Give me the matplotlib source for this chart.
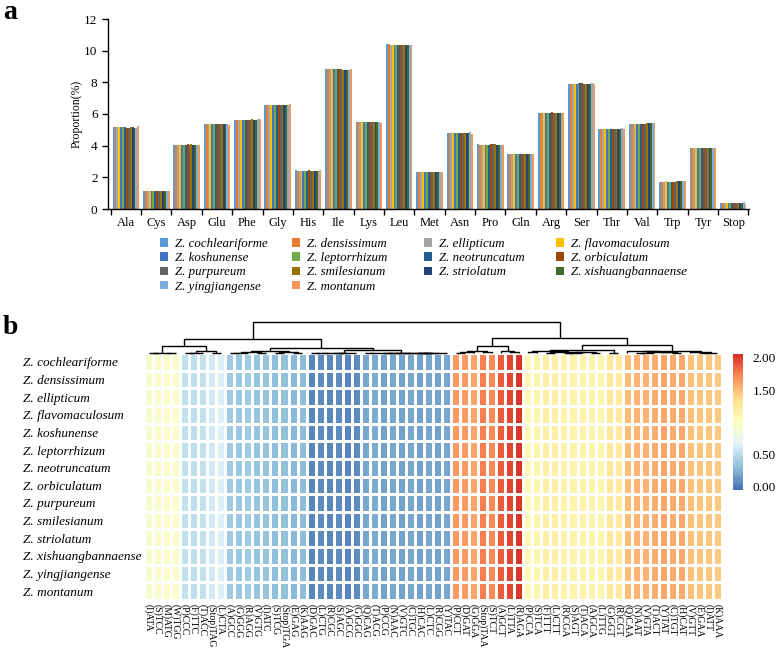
import numpy as np
import matplotlib
matplotlib.use("Agg")
import matplotlib.pyplot as plt
from matplotlib.patches import Patch
from matplotlib.colors import LinearSegmentedColormap

plt.rcParams['font.family'] = 'serif'
plt.rcParams['font.serif'] = ['Liberation Serif', 'DejaVu Serif']

# ---------------- data ----------------
species = ["Z. cochleariforme", "Z. densissimum", "Z. ellipticum", "Z. flavomaculosum",
           "Z. koshunense", "Z. leptorrhizum", "Z. neotruncatum", "Z. orbiculatum",
           "Z. purpureum", "Z. smilesianum", "Z. striolatum", "Z. xishuangbannaense",
           "Z. yingjiangense", "Z. montanum"]

species_colors = ["#5B9BD5", "#ED7D31", "#A5A5A5", "#FFC000", "#4472C4", "#70AD47",
                  "#255E91", "#9E480E", "#636363", "#997300", "#264478", "#43682B",
                  "#7CAFDD", "#F1975A"]

amino_acids = ["Ala", "Cys", "Asp", "Glu", "Phe", "Gly", "His", "Ile", "Lys", "Leu", "Met",
               "Asn", "Pro", "Gln", "Arg", "Ser", "Thr", "Val", "Trp", "Tyr", "Stop"]

# proportion (%) of each amino acid, one row per species
proportion = [
    [5.18, 1.14, 4.06, 5.40, 5.62, 6.60, 2.44, 8.82, 5.52, 10.40, 2.32, 4.80, 4.08, 3.47, 6.08, 7.90, 5.06, 5.40, 1.72, 3.84, 0.36],
    [5.16, 1.14, 4.06, 5.38, 5.62, 6.60, 2.42, 8.84, 5.50, 10.40, 2.32, 4.82, 4.07, 3.47, 6.09, 7.88, 5.06, 5.38, 1.70, 3.84, 0.36],
    [5.17, 1.15, 4.05, 5.38, 5.63, 6.59, 2.42, 8.84, 5.50, 10.36, 2.32, 4.82, 4.06, 3.47, 6.09, 7.92, 5.06, 5.38, 1.72, 3.84, 0.37],
    [5.15, 1.14, 4.06, 5.38, 5.63, 6.58, 2.43, 8.86, 5.50, 10.34, 2.32, 4.83, 4.06, 3.47, 6.09, 7.92, 5.06, 5.38, 1.74, 3.84, 0.37],
    [5.18, 1.15, 4.05, 5.38, 5.62, 6.60, 2.42, 8.82, 5.51, 10.38, 2.32, 4.82, 4.06, 3.47, 6.08, 7.90, 5.06, 5.38, 1.72, 3.84, 0.38],
    [5.16, 1.15, 4.06, 5.37, 5.64, 6.59, 2.42, 8.86, 5.50, 10.38, 2.33, 4.83, 4.07, 3.48, 6.09, 7.94, 5.06, 5.40, 1.72, 3.86, 0.37],
    [5.15, 1.15, 4.06, 5.38, 5.64, 6.58, 2.42, 8.84, 5.50, 10.36, 2.33, 4.83, 4.06, 3.47, 6.09, 7.93, 5.06, 5.40, 1.72, 3.86, 0.38],
    [5.14, 1.15, 4.08, 5.40, 5.62, 6.59, 2.44, 8.84, 5.52, 10.38, 2.34, 4.83, 4.08, 3.48, 6.10, 7.95, 5.07, 5.40, 1.72, 3.86, 0.38],
    [5.14, 1.15, 4.06, 5.38, 5.64, 6.60, 2.43, 8.82, 5.52, 10.36, 2.33, 4.82, 4.08, 3.48, 6.09, 7.88, 5.06, 5.40, 1.72, 3.86, 0.38],
    [5.16, 1.15, 4.08, 5.40, 5.66, 6.60, 2.43, 8.80, 5.50, 10.38, 2.34, 4.83, 4.08, 3.48, 6.09, 7.90, 5.06, 5.41, 1.74, 3.86, 0.37],
    [5.15, 1.15, 4.07, 5.38, 5.64, 6.58, 2.42, 8.80, 5.50, 10.34, 2.33, 4.83, 4.07, 3.47, 6.06, 7.92, 5.06, 5.42, 1.74, 3.85, 0.38],
    [5.14, 1.15, 4.07, 5.37, 5.64, 6.59, 2.42, 8.80, 5.50, 10.38, 2.32, 4.82, 4.07, 3.46, 6.06, 7.90, 5.07, 5.42, 1.76, 3.85, 0.38],
    [5.14, 1.15, 4.06, 5.36, 5.70, 6.60, 2.42, 8.79, 5.48, 10.36, 2.33, 4.84, 4.07, 3.45, 6.06, 7.98, 5.10, 5.41, 1.76, 3.84, 0.46],
    [5.22, 1.15, 4.04, 5.33, 5.66, 6.66, 2.44, 8.82, 5.42, 10.36, 2.32, 4.75, 4.06, 3.48, 6.06, 7.88, 5.05, 5.42, 1.76, 3.83, 0.30],
]

# codons in the (clustered) order of the heatmap columns
codons = ["(I)ATA", "(S)TCC", "(M)ATG", "(W)TGG", "(P)CCC", "(F)TTC", "(T)ACC", "(Stop)TAG",
          "(L)CTA", "(A)GCC", "(G)GGG", "(R)AGG", "(V)GTG", "(I)ATC", "(S)TCG", "(Stop)TGA",
          "(E)GAG", "(K)AAG", "(D)GAC", "(L)CTG", "(R)CGC", "(S)AGC", "(A)GCG", "(G)GGC",
          "(Q)CAG", "(T)ACG", "(P)CCG", "(N)AAC", "(V)GTC", "(C)TGC", "(H)CAC", "(L)CTC",
          "(R)CGG", "(Y)TAC", "(P)CCT", "(D)GAT", "(G)GGA", "(Stop)TAA", "(S)TCT", "(A)GCT",
          "(L)TTA", "(R)AGA", "(P)CCA", "(S)TCA", "(F)TTT", "(L)CTT", "(R)CGA", "(S)AGT",
          "(T)ACA", "(A)GCA", "(L)TTG", "(G)GGT", "(R)CGT", "(Q)CAA", "(N)AAT", "(V)GTA",
          "(T)ACT", "(Y)TAT", "(C)TGT", "(H)CAT", "(V)GTT", "(E)GAA", "(I)ATT", "(K)AAA"]

# value per codon (rows look the same for every species)
rscu = [0.92, 0.93, 0.95, 0.95, 0.52, 0.50, 0.52, 0.60,
        0.63, 0.38, 0.37, 0.38, 0.33, 0.34, 0.30, 0.31,
        0.27, 0.29, 0.05, 0.06, 0.04, 0.06, 0.05, 0.07,
        0.20, 0.21, 0.18, 0.19, 0.18, 0.20, 0.18, 0.19,
        0.18, 0.20, 1.65, 1.64, 1.60, 1.76, 1.71, 1.88,
        1.96, 2.03, 1.08, 1.12, 1.18, 1.19, 1.16, 1.15,
        1.16, 1.14, 1.12, 1.26, 1.23, 1.50, 1.54, 1.55,
        1.57, 1.60, 1.56, 1.59, 1.49, 1.46, 1.45, 1.46]

heat = np.array([rscu for _ in species])


# ---------------- clustering for the column tree ----------------
def neighbour_linkage(mat):
    # complete linkage, only neighbouring groups may join so the leaf order is kept
    groups = [[i] for i in range(mat.shape[1])]
    pos = [(i + 0.5, 0.0) for i in range(mat.shape[1])]
    segs = []
    while len(groups) > 1:
        best_k, best_d = 0, None
        for k in range(len(groups) - 1):
            d = max(np.linalg.norm(mat[:, i] - mat[:, j]) for i in groups[k] for j in groups[k + 1])
            if best_d is None or d < best_d:
                best_k, best_d = k, d
        (xa, ha), (xb, hb) = pos[best_k], pos[best_k + 1]
        segs.append(([xa, xa, xb, xb], [ha, best_d, best_d, hb]))
        groups[best_k:best_k + 2] = [groups[best_k] + groups[best_k + 1]]
        pos[best_k:best_k + 2] = [((xa + xb) / 2, best_d)]
    return segs, pos[0][1]


# ---------------- figure ----------------
W, H = 778, 656
fig = plt.figure(figsize=(W / 100, H / 100), dpi=100)


def box(x0, y0, x1, y1):
    # pixel box (top-left origin) -> figure fraction
    return [x0 / W, 1 - y1 / H, (x1 - x0) / W, (y1 - y0) / H]


# ---- panel a: bars ----
ax = fig.add_axes(box(108, 19, 749, 209))
n_sp = len(species)
bw = 0.875 / n_sp
xc = np.arange(len(amino_acids))
vals = np.array(proportion)
for j in range(n_sp):
    ax.bar(xc + (j - (n_sp - 1) / 2) * bw, vals[j], width=bw, color=species_colors[j],
           linewidth=0, label=species[j])

ax.set_xlim(-0.59, len(amino_acids) - 0.48)
ax.set_ylim(0, 12)
ax.set_yticks(np.arange(0, 13, 2))
ax.set_xticks(np.arange(len(amino_acids) + 1) - 0.5)
ax.set_xticklabels([])
ax.set_xticks(xc, minor=True)
ax.set_xticklabels(amino_acids, minor=True, fontsize=9)
ax.tick_params(axis='x', which='major', direction='out', length=4, width=1)
ax.tick_params(axis='x', which='minor', length=0, pad=6)
ax.tick_params(axis='y', direction='out', length=4, width=1, labelsize=9.5)
for s in ['top', 'right']:
    ax.spines[s].set_visible(False)
for s in ['left', 'bottom']:
    ax.spines[s].set_linewidth(1)
ax.set_ylabel("Proportion(%)", fontsize=8.5, labelpad=1)

# legend: four columns, filled row by row
handles = [Patch(facecolor=c, edgecolor='none') for c in species_colors]
legend_x = [160, 292, 424, 556]
for c, lx in enumerate(legend_x):
    idx = list(range(c, n_sp, 4))
    leg = fig.legend([handles[i] for i in idx], [species[i] for i in idx],
                     loc='upper left', bbox_to_anchor=(lx / W, 1 - 238 / H), frameon=False,
                     prop={'style': 'italic', 'size': 9.3}, handlelength=0.65,
                     handleheight=0.65, handletextpad=0.5, labelspacing=0.17,
                     borderpad=0, borderaxespad=0)

fig.text(3 / W, 1 - 19 / H, "a", fontsize=20, fontweight='bold', va='baseline')
fig.text(3 / W, 1 - 334 / H, "b", fontsize=20, fontweight='bold', va='baseline')

# ---- panel b: heatmap ----
hx0, hx1, hy0, hy1 = 144, 722, 353, 600
hax = fig.add_axes(box(hx0, hy0, hx1, hy1))
cmap = LinearSegmentedColormap.from_list(
    "rdylbu_r", ["#4575B4", "#91BFDB", "#E0F3F8", "#FFFFBF", "#FEE090", "#FC8D59", "#D73027"], N=100)
mesh = hax.pcolormesh(heat, cmap=cmap, vmin=-0.05, vmax=2.06, edgecolors='white', linewidth=1.0)
hax.set_xlim(0, len(codons))
hax.set_ylim(len(species), 0)
hax.set_xticks(np.arange(len(codons)) + 0.5)
hax.set_xticklabels(codons, rotation=-90, fontsize=7)
hax.set_yticks(np.arange(len(species)) + 0.5)
hax.set_yticklabels(species, fontsize=9.5, style='italic', ha='left')
hax.tick_params(axis='x', length=0, pad=3)
hax.tick_params(axis='y', length=0, pad=(hx0 - 23) * 0.72)
for s in hax.spines.values():
    s.set_visible(False)

# column dendrogram
dax = fig.add_axes(box(hx0, 322, hx1, hy0))
segs, top_h = neighbour_linkage(heat)
for xs, ys in segs:
    dax.plot(xs, ys, color='black', linewidth=1.0, clip_on=False, solid_capstyle='butt')
dax.set_xlim(0, len(codons))
dax.set_ylim(0, top_h)
dax.axis('off')

# colour key
cax = fig.add_axes(box(733, 354, 743, 490))
cb = fig.colorbar(mesh, cax=cax, ticks=[0, 0.5, 1.5, 2.0])
cb.outline.set_visible(False)
cb.ax.set_yticklabels(["0.00", "0.50", "1.50", "2.00"])
cb.ax.tick_params(length=0, pad=7, labelsize=9.5)

fig.savefig("out.png", dpi=100)
